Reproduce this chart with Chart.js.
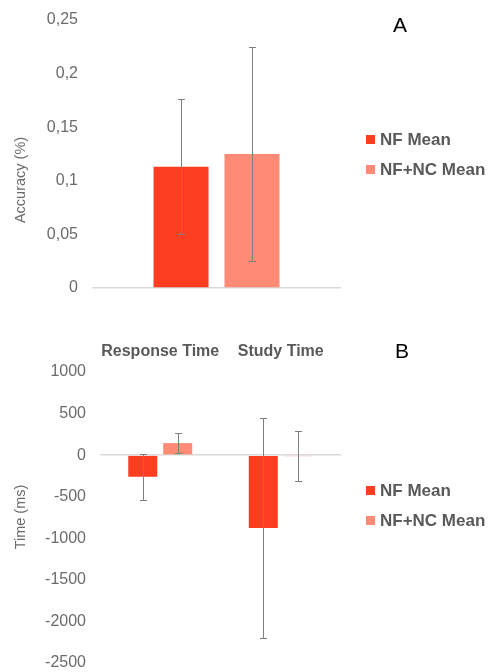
<!DOCTYPE html>
<html>
<head>
<meta charset="utf-8">
<script src="https://cdn.jsdelivr.net/npm/chart.js@4.4.1/dist/chart.umd.min.js"></script>
<style>
  html, body { margin: 0; padding: 0; background: #fff; }
  body { width: 488px; height: 672px; position: relative; overflow: hidden; font-family: "Liberation Sans", Arial, sans-serif; }
  canvas { position: absolute; left: 0; }
  #chartA { top: 0; }
  #chartB { top: 310px; }
  .panel { position: absolute; font-size: 21px; color: #000; transform: translate(-50%, -50%); }
  .ytitle { position: absolute; font-size: 14.5px; color: #6b6b6b; white-space: nowrap; transform: translate(-50%, -50%) rotate(-90deg); }
  .legend { position: absolute; left: 366px; font-weight: bold; font-size: 17px; color: #595959; }
  .legend div { height: 30px; line-height: 30px; white-space: nowrap; }
  .legend span { display: inline-block; width: 9px; height: 9px; margin-right: 5px; vertical-align: 1px; }
</style>
</head>
<body>
<canvas id="chartA" width="488" height="310"></canvas>
<canvas id="chartB" width="488" height="362"></canvas>
<div class="panel" style="left:400px; top:25px;">A</div>
<div class="panel" style="left:402px; top:351px;">B</div>
<div class="ytitle" style="left:20px; top:180px;">Accuracy (%)</div>
<div class="ytitle" style="left:20px; top:517px;">Time (ms)</div>
<div class="legend" id="legendA" style="top:125px;"></div>
<div class="legend" id="legendB" style="top:476px;"></div>
<script>
const seriesNames = ['NF Mean', 'NF+NC Mean'];
const seriesColors = ['#fc3d20', '#ff8a76'];

// panel A: accuracy
const catsA = ['Accuracy'];
const nfA = [0.113];
const nfncA = [0.125];
const nfErrA = [0.063];
const nfncErrA = [0.1];
const ticksA = { min: 0, max: 0.25, step: 0.05 };

// panel B: time
const catsB = ['Response Time', 'Study Time'];
const nfB = [-260, -877];
const nfncB = [145, -12];
const nfErrB = [275, 1320];
const nfncErrB = [125, 305];
const ticksB = { min: -2500, max: 1000, step: 500 };

// draws +/- error whiskers on every bar, using the y scale
const errorBars = {
  id: 'errorBars',
  afterDatasetsDraw(chart) {
    const ctx = chart.ctx;
    const y = chart.scales.y;
    ctx.save();
    ctx.strokeStyle = '#7f7f7f';
    ctx.lineWidth = 1;
    chart.data.datasets.forEach((ds, i) => {
      const meta = chart.getDatasetMeta(i);
      meta.data.forEach((bar, j) => {
        const v = ds.data[j];
        const e = ds.errors[j];
        const x = Math.round(bar.x) + 0.5;
        const top = Math.round(y.getPixelForValue(v + e)) + 0.5;
        const bot = Math.round(y.getPixelForValue(v - e)) + 0.5;
        ctx.beginPath();
        ctx.moveTo(x, top); ctx.lineTo(x, bot);
        ctx.moveTo(x - 3.5, top); ctx.lineTo(x + 3.5, top);
        ctx.moveTo(x - 3.5, bot); ctx.lineTo(x + 3.5, bot);
        ctx.stroke();
      });
    });
    ctx.restore();
  }
};

function fmtComma(v) {
  return String(Math.round(v * 100) / 100).replace('.', ',');
}

function yScale(t, width, fmt) {
  return {
    min: t.min,
    max: t.max,
    afterFit(scale) {
      // fixed axis width; layout padding alone sets the plot's top/bottom
      scale.width = width;
      scale.paddingTop = 0;
      scale.paddingBottom = 0;
    },
    border: { display: false },
    grid: {
      drawTicks: false,
      color: c => c.tick && c.tick.value === 0 ? '#d9d9d9' : 'rgba(0,0,0,0)',
      lineWidth: 1.5
    },
    ticks: {
      stepSize: t.step,
      padding: 14,
      color: '#6b6b6b',
      font: { family: '"Liberation Sans", Arial, sans-serif', size: 16 },
      callback: fmt
    }
  };
}

function makeDatasets(a, b, ea, eb, catPct, barPct) {
  return [a, b].map((d, i) => ({
    label: seriesNames[i],
    data: d,
    errors: i === 0 ? ea : eb,
    backgroundColor: seriesColors[i],
    categoryPercentage: catPct,
    barPercentage: barPct
  }));
}

new Chart(document.getElementById('chartA'), {
  type: 'bar',
  data: { labels: catsA, datasets: makeDatasets(nfA, nfncA, nfErrA, nfncErrA, 0.57, 0.775) },
  options: {
    responsive: false,
    animation: false,
    layout: { padding: { left: 8, right: 147, top: 20, bottom: 22 } },
    plugins: { legend: { display: false }, tooltip: { enabled: false } },
    scales: {
      x: { display: false },
      y: yScale(ticksA, 84, fmtComma)
    }
  },
  plugins: [errorBars]
});

new Chart(document.getElementById('chartB'), {
  type: 'bar',
  data: { labels: catsB, datasets: makeDatasets(nfB, nfncB, nfErrB, nfncErrB, 0.58, 0.83) },
  options: {
    responsive: false,
    animation: false,
    layout: { padding: { left: 8, right: 147, top: 0, bottom: 9 } },
    plugins: { legend: { display: false }, tooltip: { enabled: false } },
    scales: {
      x: {
        position: 'top',
        afterFit(scale) { scale.height = 62; },
        border: { display: false },
        grid: { display: false, drawTicks: false },
        ticks: {
          padding: 11,
          autoSkip: false,
          maxRotation: 0,
          minRotation: 0,
          color: '#595959',
          font: { family: '"Liberation Sans", Arial, sans-serif', size: 16, weight: 'bold' }
        }
      },
      y: yScale(ticksB, 92, v => String(v))
    }
  },
  plugins: [errorBars]
});

// legends drawn beside each panel
function fillLegend(id) {
  const el = document.getElementById(id);
  seriesNames.forEach((name, i) => {
    const row = document.createElement('div');
    const box = document.createElement('span');
    box.style.background = seriesColors[i];
    row.appendChild(box);
    row.appendChild(document.createTextNode(name));
    el.appendChild(row);
  });
}
fillLegend('legendA');
fillLegend('legendB');
</script>
</body>
</html>
